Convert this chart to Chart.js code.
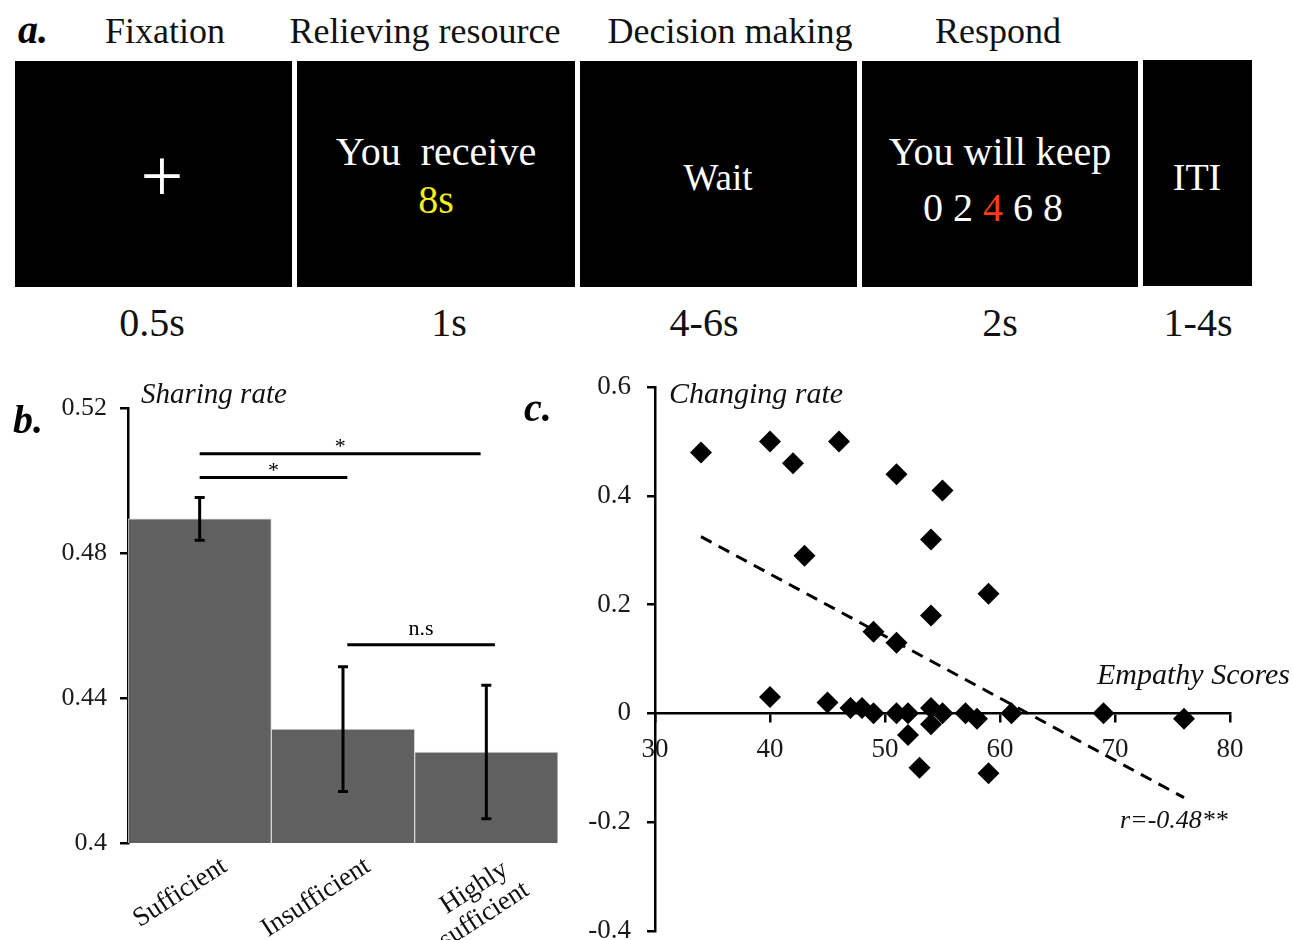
<!DOCTYPE html>
<html>
<head>
<meta charset="utf-8">
<script src="https://cdn.jsdelivr.net/npm/chart.js@4.4.1/dist/chart.umd.min.js"></script>
<style>
html, body { margin: 0; padding: 0; background: #fff; overflow: hidden; }
body { width: 1293px; height: 940px; position: relative; font-family: "Liberation Serif", "Times New Roman", serif; color: #111; }
.t { position: absolute; line-height: 1; white-space: pre; transform: translate(-50%, -50%); }
.l { position: absolute; line-height: 1; white-space: pre; transform: translate(0, -50%); }
.r { position: absolute; line-height: 1; white-space: pre; transform: translate(-100%, -50%); }
.box { position: absolute; background: #000; }
.w { color: #fff; }
.tag { font-size: 40px; font-weight: bold; font-style: italic; color: #000; }
.head { font-size: 36px; }
.time { font-size: 40px; }
.it { font-style: italic; }
.panel { position: absolute; }
</style>
</head>
<body>

<!-- a. trial procedure -->
<div class="t tag" style="left:33px;top:30px;">a.</div>
<div class="t head" style="left:165px;top:31px;">Fixation</div>
<div class="t head" style="left:425px;top:31px;">Relieving resource</div>
<div class="t head" style="left:730px;top:31px;">Decision making</div>
<div class="t head" style="left:998px;top:31px;">Respond</div>

<div class="box" style="left:15px;top:61px;width:277px;height:226px;"></div>
<div class="box" style="left:297px;top:61px;width:278px;height:226px;"></div>
<div class="box" style="left:580px;top:61px;width:277px;height:226px;"></div>
<div class="box" style="left:862px;top:61px;width:276px;height:226px;"></div>
<div class="box" style="left:1143px;top:60px;width:109px;height:226px;"></div>

<div class="t w" style="left:162px;top:175px;font-size:76px;">+</div>
<div class="t w" style="left:436px;top:152px;font-size:40px;">You  receive</div>
<div class="t" style="left:436px;top:200px;font-size:40px;color:#f4ee1c;">8s</div>
<div class="t w" style="left:718px;top:177px;font-size:37px;">Wait</div>
<div class="t w" style="left:1000px;top:152px;font-size:40px;">You will keep</div>
<div class="t w" style="left:993px;top:208px;font-size:40px;">0 2 <span style="color:#ff3c14;">4</span> 6 8</div>
<div class="t w" style="left:1197px;top:177px;font-size:38px;">ITI</div>

<div class="t time" style="left:152px;top:323px;">0.5s</div>
<div class="t time" style="left:449px;top:323px;">1s</div>
<div class="t time" style="left:704px;top:323px;">4-6s</div>
<div class="t time" style="left:1000px;top:323px;">2s</div>
<div class="t time" style="left:1198px;top:323px;">1-4s</div>

<!-- b. sharing rate -->
<div class="panel" style="left:0px;top:370px;width:580px;height:570px;"><canvas id="chartB"></canvas></div>
<div class="t tag" style="left:28px;top:420px;">b.</div>
<div class="l it" style="left:141px;top:393px;font-size:29px;">Sharing rate</div>

<!-- c. changing rate vs empathy -->
<div class="panel" style="left:580px;top:355px;width:713px;height:608px;"><canvas id="chartC"></canvas></div>
<div class="t tag" style="left:538px;top:408px;">c.</div>
<div class="l it" style="left:669px;top:393px;font-size:30px;">Changing rate</div>
<div class="r it" style="left:1290px;top:674px;font-size:30px;">Empathy Scores</div>
<div class="l it" style="left:1120px;top:820px;font-size:26px;">r=-0.48**</div>

<script>
Chart.defaults.font.family = "'Liberation Serif', 'Times New Roman', serif";
Chart.defaults.color = "#111";

// panel b data
const sharingCategories = ["Sufficient", "Insufficient", ["Highly ", "insufficient"]];
const sharingRate = [0.4894, 0.4314, 0.4251];
const sharingError = [0.0059, 0.0172, 0.0184];
const sharingTicks = [0.4, 0.44, 0.48, 0.52];
// significance brackets (category index from/to, height in sharing rate)
const sigFrom = [0, 0, 1.03];
const sigTo = [1.96, 1.03, 2.06];
const sigLevel = [0.5074, 0.5008, 0.4547];
const sigText = ["*", "*", "n.s"];

// panel c data
const empathyScores = [34, 40, 42, 46, 43, 51, 55, 54, 54, 59, 49, 51, 40, 45, 47, 48, 49, 51, 52, 54, 54, 55, 57, 58, 61, 69, 76, 52, 53, 59];
const changingRate = [0.48, 0.50, 0.46, 0.50, 0.29, 0.44, 0.41, 0.32, 0.18, 0.22, 0.15, 0.13, 0.03, 0.02, 0.01, 0.01, 0, 0, 0, 0.01, -0.02, 0, 0, -0.01, 0, 0, -0.01, -0.04, -0.10, -0.11];
const fitX = [34, 76];
const fitY = [0.325, -0.155];
const empathyTicks = [30, 40, 50, 60, 70, 80];
const changingTicks = [-0.4, -0.2, 0, 0.2, 0.4, 0.6];

const axisGrid = { drawOnChartArea: false, drawTicks: true, tickLength: 8, color: "#000", lineWidth: 2.5 };
const axisBorder = { display: true, color: "#000", width: 2.5 };

// error bars and brackets for panel b
const sharingMarks = {
    id: "sharingMarks",
    afterDatasetsDraw(chart) {
        const { ctx, scales: { x, y } } = chart;
        ctx.save();
        ctx.strokeStyle = "#000";
        ctx.lineWidth = 3;
        sharingRate.forEach((v, i) => {
            const px = x.getPixelForValue(i);
            const top = y.getPixelForValue(v + sharingError[i]);
            const bot = y.getPixelForValue(v - sharingError[i]);
            ctx.beginPath();
            ctx.moveTo(px, top);
            ctx.lineTo(px, bot);
            ctx.moveTo(px - 5, top);
            ctx.lineTo(px + 5, top);
            ctx.moveTo(px - 5, bot);
            ctx.lineTo(px + 5, bot);
            ctx.stroke();
        });
        ctx.fillStyle = "#000";
        ctx.textAlign = "center";
        ctx.textBaseline = "alphabetic";
        ctx.font = "22px 'Liberation Serif'";
        sigLevel.forEach((lv, i) => {
            const x1 = x.getPixelForValue(sigFrom[i]);
            const x2 = x.getPixelForValue(sigTo[i]);
            const py = y.getPixelForValue(lv);
            ctx.beginPath();
            ctx.moveTo(x1, py);
            ctx.lineTo(x2, py);
            ctx.stroke();
            ctx.fillText(sigText[i], (x1 + x2) / 2, py - (sigText[i] === "*" ? 1 : 10));
        });
        ctx.restore();
    },
};

new Chart(document.getElementById("chartB"), {
    type: "bar",
    data: {
        labels: sharingCategories,
        datasets: [{
            data: sharingRate,
            backgroundColor: "#606060",
            borderColor: "#d4d4d4",
            borderWidth: 1,
            barPercentage: 1,
            categoryPercentage: 1,
        }],
    },
    options: {
        responsive: true,
        maintainAspectRatio: false,
        animation: false,
        layout: { padding: { top: 38, right: 22, left: 0, bottom: 0 } },
        plugins: { legend: { display: false }, tooltip: { enabled: false } },
        scales: {
            x: {
                grid: { display: false },
                border: { display: false },
                afterFit: (s) => { s.height = 97; },
                ticks: { minRotation: 33, maxRotation: 33, autoSkip: false, labelOffset: 25, padding: 1, font: { size: 27, lineHeight: 1.05 }, color: "#111" },
            },
            y: {
                min: 0.4,
                max: 0.52,
                afterBuildTicks: (s) => { s.ticks = sharingTicks.map((v) => ({ value: v })); },
                afterFit: (s) => { s.width = 128; },
                grid: axisGrid,
                border: axisBorder,
                ticks: { padding: 13, font: { size: 26 }, color: "#1a1a1a", callback: (v) => String(v) },
            },
        },
    },
    plugins: [sharingMarks],
});

new Chart(document.getElementById("chartC"), {
    type: "scatter",
    data: {
        datasets: [
            {
                data: empathyScores.map((v, i) => ({ x: v, y: changingRate[i] })),
                pointStyle: "rectRot",
                pointRadius: 11,
                backgroundColor: "#000",
                borderColor: "#000",
                borderWidth: 0,
                order: 1,
            },
            {
                data: fitX.map((v, i) => ({ x: v, y: fitY[i] })),
                showLine: true,
                pointRadius: 0,
                borderColor: "#000",
                borderWidth: 3,
                borderDash: [12, 8],
                order: 2,
            },
        ],
    },
    options: {
        responsive: true,
        maintainAspectRatio: false,
        animation: false,
        layout: { padding: { top: 0, right: 63, left: 0, bottom: 0 } },
        plugins: { legend: { display: false }, tooltip: { enabled: false } },
        scales: {
            x: {
                type: "linear",
                min: 30,
                max: 80,
                position: { y: 0 },
                afterBuildTicks: (s) => { s.ticks = empathyTicks.map((v) => ({ value: v })); },
                grid: axisGrid,
                border: axisBorder,
                ticks: { padding: 12, font: { size: 27 }, color: "#1a1a1a" },
            },
            y: {
                min: -0.4,
                max: 0.6,
                afterBuildTicks: (s) => { s.ticks = changingTicks.map((v) => ({ value: v })); },
                afterFit: (s) => { s.width = 75; },
                grid: axisGrid,
                border: axisBorder,
                ticks: { padding: 16, font: { size: 27 }, color: "#1a1a1a", callback: (v) => String(v) },
            },
        },
    },
});
</script>
</body>
</html>
